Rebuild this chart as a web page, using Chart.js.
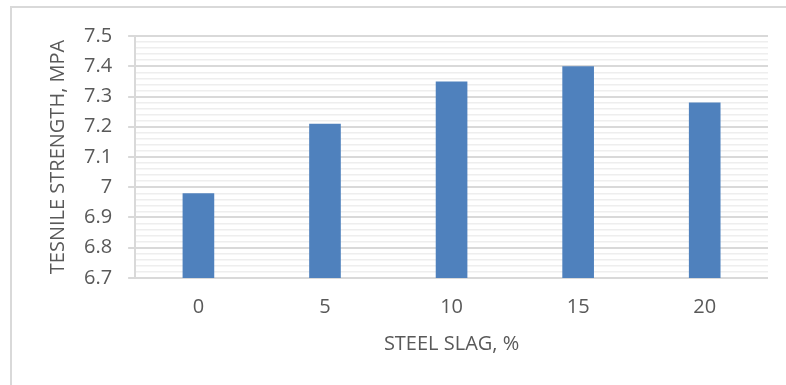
<!DOCTYPE html>
<html>
<head>
<meta charset="utf-8">
<script src="https://cdn.jsdelivr.net/npm/chart.js@4.4.1/dist/chart.umd.min.js"></script>
<style>
  html, body { margin: 0; padding: 0; background: #ffffff; }
  #wrap { position: relative; width: 786px; height: 385px; overflow: hidden; }
  #frame {
    position: absolute; left: 10px; top: 6px; width: 900px; height: 500px;
    border-left: 2px solid #d9d9d9; border-top: 2px solid #d9d9d9;
  }
  canvas { position: absolute; left: 0; top: 0; }
</style>
</head>
<body>
<div id="wrap">
  <div id="frame"></div>
  <canvas id="slagChart" width="786" height="385"></canvas>
</div>
<script>
// chart data
const slagPercent = ["0", "5", "10", "15", "20"];
const tensileStrength = [6.98, 7.21, 7.35, 7.40, 7.28];
const yMin = 6.7;
const yMax = 7.5;

const labelFont = "'Open Sans', 'DejaVu Sans', sans-serif";

// true for the 0.1 steps that carry a label
function isMajor(v) {
    return Math.abs(v * 10 - Math.round(v * 10)) < 1e-6;
}

const ctx = document.getElementById("slagChart").getContext("2d");

new Chart(ctx, {
    type: "bar",
    data: {
        labels: slagPercent,
        datasets: [{
            data: tensileStrength,
            backgroundColor: "#4f81bd",
            borderColor: "#4f81bd",
            borderWidth: 0,
            categoryPercentage: 1.0,
            barPercentage: 0.25
        }]
    },
    options: {
        responsive: false,
        animation: false,
        layout: { padding: { left: 46, right: 18, top: 36, bottom: 29 } },
        plugins: {
            legend: { display: false },
            tooltip: { enabled: false }
        },
        scales: {
            x: {
                grid: { display: false, drawTicks: false },
                border: { display: false },
                ticks: {
                    color: "#595959",
                    font: { family: labelFont, size: 20 },
                    padding: 17
                },
                title: {
                    display: true,
                    text: "STEEL SLAG, %",
                    color: "#595959",
                    font: { family: labelFont, size: 20 },
                    padding: { top: -4, bottom: 0 }
                }
            },
            y: {
                min: yMin,
                max: yMax,
                ticks: {
                    stepSize: 0.02,
                    autoSkip: false,
                    color: "#595959",
                    font: { family: labelFont, size: 20 },
                    padding: 16,
                    callback: function(value) {
                        if (!isMajor(value)) return "";
                        return parseFloat(value.toFixed(1)).toString();
                    }
                },
                grid: {
                    color: function(c) {
                        return isMajor(c.tick.value) ? "#d9d9d9" : "#eeeeee";
                    },
                    lineWidth: function(c) {
                        return isMajor(c.tick.value) ? 2 : 1.5;
                    },
                    tickColor: function(c) {
                        return isMajor(c.tick.value) ? "#d9d9d9" : "rgba(0,0,0,0)";
                    },
                    tickLength: 7
                },
                border: { display: true, color: "#d9d9d9", width: 2 },
                title: {
                    display: true,
                    text: "TESNILE STRENGTH, MPA",
                    color: "#595959",
                    font: { family: labelFont, size: 20 },
                    padding: { top: 0, bottom: -2 }
                }
            }
        }
    }
});
</script>
</body>
</html>
